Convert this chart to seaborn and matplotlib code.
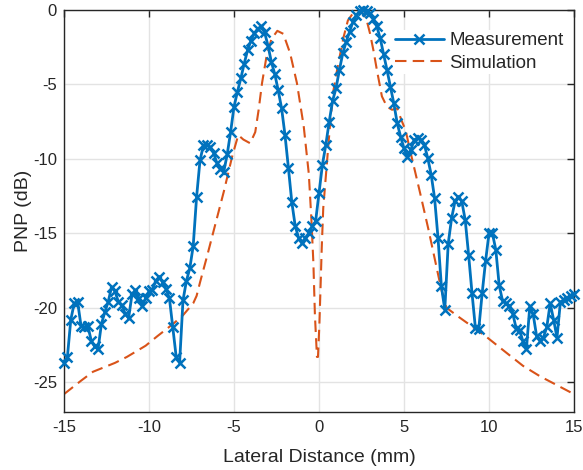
import numpy as np
import pandas as pd
import matplotlib
matplotlib.use("Agg")
import matplotlib.pyplot as plt
import seaborn as sns

# Measurement sampled every 0.2 mm from -15 to 15 mm
meas_x = np.round(np.linspace(-15, 15, 151), 1)
meas_y = [
    -23.7, -23.3, -20.8, -19.7, -19.6, -21.2, -21.3, -21.2, -22.2, -22.6,
    -22.8, -21.1, -20.3, -19.6, -18.6, -18.9, -19.6, -19.8, -20.4, -20.7,
    -19.1, -18.8, -19.35, -19.9, -19.35, -18.9, -18.8, -18.2, -17.9, -18.3,
    -18.75, -19.35, -21.3, -23.3, -23.7, -19.5, -18.2, -17.35, -15.85, -12.55,
    -10.1, -9.1, -9.05, -9.2, -9.6, -10.3, -10.7, -10.85, -9.7, -8.2,
    -6.5, -5.5, -4.6, -3.6, -2.7, -2.05, -1.55, -1.25, -1.1, -1.5,
    -2.4, -3.5, -4.3, -5.4, -6.6, -8.4, -10.6, -12.9, -14.5, -15.3,
    -15.65, -15.3, -15.0, -14.5, -14.2, -12.3, -10.4, -9.06, -7.5, -6.1,
    -5.26, -4.03, -2.9, -2.13, -1.45, -0.78, -0.34, -0.05, 0.0, -0.05,
    -0.22, -0.6, -1.1, -1.9, -2.95, -4.03, -5.15, -6.26, -7.6, -8.5,
    -9.3, -9.9, -9.4, -8.72, -8.6, -8.7, -9.06, -9.96, -11.07, -12.64,
    -15.3, -18.57, -20.13, -15.7, -13.98, -12.86, -12.53, -12.86, -14.1, -16.44,
    -19.0, -21.36, -21.4, -19.0, -16.85, -15.0, -15.0, -16.1, -18.5, -19.55,
    -19.7, -19.85, -20.4, -21.4, -21.5, -22.26, -22.8, -19.9, -20.45, -21.9,
    -22.2, -22.0, -21.3, -19.7, -20.8, -22.0, -19.6, -19.5, -19.35, -19.2,
    -19.1,
]

sim_x = [-15, -14, -13.3, -12, -11.3, -10.2, -9.5, -8.6, -8, -7.4,
         -7.2, -7.0, -6.6, -6.1, -5.6, -5.1, -4.75, -4.45, -4.05, -3.75,
         -3.55, -3.35, -3.1, -2.8, -2.45, -2.1, -1.7, -1.3, -0.9, -0.6,
         -0.45, -0.33, -0.24, -0.12, -0.06, 0.02, 0.1, 0.16, 0.25, 0.45,
         0.65, 0.85, 1.1, 1.45, 1.7, 2.0, 2.3, 2.5, 2.8, 3.0,
         3.2, 3.4, 3.7, 4.0, 4.3, 4.6, 4.85, 5.1, 5.35, 5.6,
         5.95, 6.45, 6.9, 7.2, 7.5, 8.2, 9.0, 9.9, 11.0, 12.0,
         13.0, 14.0, 15.0]
sim_y = [-25.8, -24.9, -24.3, -23.7, -23.3, -22.55, -21.9, -21.1, -20.5, -19.7,
         -19.2, -18.3, -16.6, -14.4, -12.2, -9.8, -8.4, -8.7, -8.95, -8.2,
         -6.7, -4.9, -3.2, -1.95, -1.4, -1.6, -2.9, -4.9, -7.8, -11.0,
         -14.0, -17.0, -20.5, -23.3, -23.3, -21.2, -18.3, -16.0, -13.3, -10.5,
         -7.7, -5.4, -3.8, -1.8, -0.7, -0.22, 0.0, -0.1, -0.67, -1.57,
         -2.7, -4.0, -5.8, -6.5, -6.7, -6.6, -7.4, -8.1, -9.4, -10.6,
         -12.3, -14.8, -17.2, -18.8, -20.0, -20.6, -21.25, -22.0, -23.0, -23.9,
         -24.6, -25.2, -25.8]

x_ticks = [-15, -10, -5, 0, 5, 10, 15]
y_ticks = [-25, -20, -15, -10, -5, 0]

sns.set_style("white")
plt.rcParams['font.family'] = ['Liberation Sans', 'DejaVu Sans']
plt.rcParams['axes.unicode_minus'] = False

fig = plt.figure(figsize=(5.83, 4.70), dpi=100)
ax = fig.add_axes([64/583, 1-412/470, 510/583, 402/470])

meas_df = pd.DataFrame({"x": meas_x, "y": meas_y})
sim_df = pd.DataFrame({"x": sim_x, "y": sim_y})

sns.lineplot(data=meas_df, x="x", y="y", ax=ax, color="#0072BD", linewidth=2.0,
             marker="x", markersize=7, markeredgewidth=1.8, markeredgecolor="#0072BD",
             label="Measurement", errorbar=None, sort=False, clip_on=False, zorder=3)
sns.lineplot(data=sim_df, x="x", y="y", ax=ax, color="#D95319", linewidth=1.5,
             linestyle=(0, (5.5, 3)), label="Simulation", errorbar=None, sort=False, zorder=2)

ax.set_xlim(-15, 15)
ax.set_ylim(-27, 0)
ax.set_xticks(x_ticks)
ax.set_yticks(y_ticks)
ax.set_xticklabels([str(t) for t in x_ticks])
ax.set_yticklabels([str(t) for t in y_ticks])
ax.grid(True, color="#e3e3e3", linewidth=1.0)
ax.set_axisbelow(True)
for s in ax.spines.values():
    s.set_visible(True)
    s.set_color("#262626")
    s.set_linewidth(1.0)
ax.tick_params(direction="in", length=5, width=1, colors="#262626", labelsize=12,
               top=True, right=True, pad=6)
ax.tick_params(axis="y", pad=5)
ax.set_xlabel("Lateral Distance (mm)", fontsize=14, color="#262626", labelpad=10)
ax.set_ylabel("PNP (dB)", fontsize=14, color="#262626", labelpad=1)

leg = ax.legend(loc="upper left", bbox_to_anchor=(0.645, 0.95), frameon=True,
                fontsize=13.5, handlelength=2.6, handletextpad=0.3, labelspacing=0.3,
                borderpad=0.1, borderaxespad=0)
leg.get_frame().set_edgecolor("none")
leg.get_frame().set_facecolor("white")
leg.get_frame().set_alpha(1)

fig.savefig("out.png", dpi=100)
